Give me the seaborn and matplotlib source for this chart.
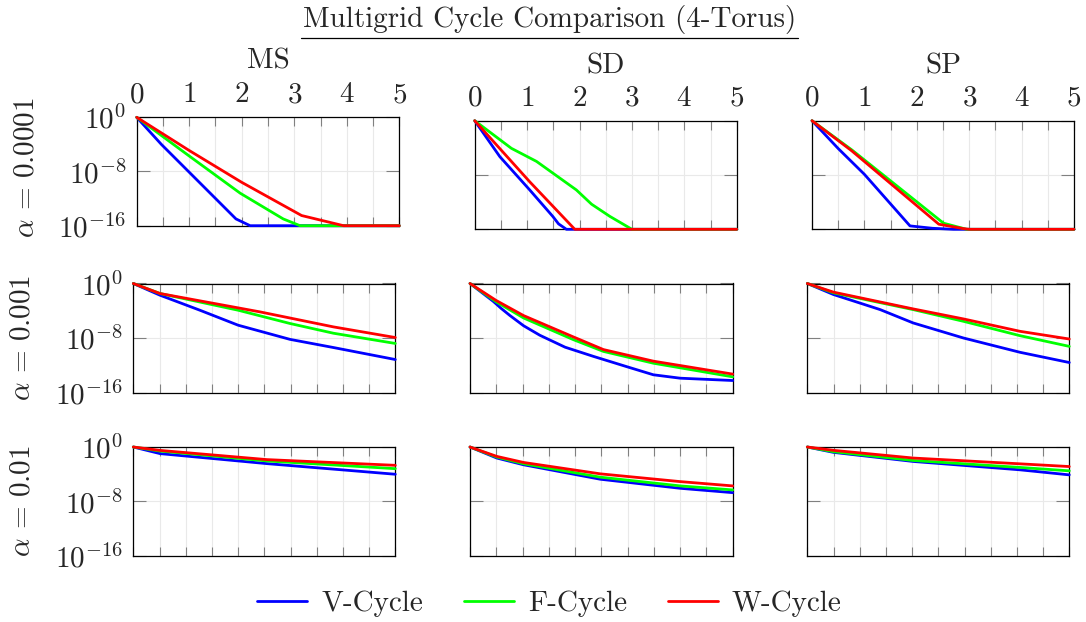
import matplotlib
matplotlib.use("Agg")
import matplotlib.pyplot as plt
from matplotlib.lines import Line2D
from matplotlib.ticker import MultipleLocator, NullLocator
import pandas as pd
import seaborn as sns

# ---------------------------------------------------------------------------
# Residual histories: (time, relative residual) pairs for each cycle type
# ---------------------------------------------------------------------------
alphas = ["0.0001", "0.001", "0.01"]
methods = ["MS", "SD", "SP"]
cycles = ["V-Cycle", "F-Cycle", "W-Cycle"]
cycle_colors = ["#0000ff", "#00ff00", "#ff0000"]

# alpha = 0.0001
ms_a4_v = [(0, 1e0), (0.47, 1e-4), (1.89, 1e-15), (2.16, 1e-16), (5, 1e-16)]
ms_a4_f = [(0, 1e0), (0.98, 10**-5.6), (1.97, 10**-11.2), (2.79, 1e-15), (3.11, 1e-16), (5, 1e-16)]
ms_a4_w = [(0, 1e0), (1.0, 10**-4.9), (2.0, 10**-9.6), (3.14, 10**-14.5), (3.94, 1e-16), (5, 1e-16)]
sd_a4_v = [(0, 1e0), (0.48, 10**-5.3), (1.05, 10**-10.2), (1.49, 10**-14.1), (1.6, 10**-15.2), (1.75, 1e-16), (5, 1e-16)]
sd_a4_f = [(0, 1e0), (0.70, 10**-4.07), (1.18, 1e-6), (1.94, 10**-10.2), (2.23, 10**-12.3), (2.58, 10**-14.1), (3.0, 1e-16), (5, 1e-16)]
sd_a4_w = [(0, 1e0), (1.05, 1e-9), (1.91, 1e-16), (5, 1e-16)]
sp_a4_v = [(0, 1e0), (0.5, 10**-4.1), (1.0, 10**-7.9), (1.87, 10**-15.5), (2.3, 10**-15.85), (2.7, 1e-16), (5, 1e-16)]
sp_a4_f = [(0, 1e0), (0.76, 10**-4.3), (2.51, 10**-15.1), (2.95, 1e-16), (5, 1e-16)]
sp_a4_w = [(0, 1e0), (0.76, 10**-4.45), (2.42, 10**-15.25), (2.89, 10**-15.9), (3.0, 1e-16), (5, 1e-16)]

# alpha = 0.001
ms_a3_v = [(0, 1e0), (0.51, 10**-1.72), (1.27, 10**-3.92), (2.0, 10**-6.12), (2.99, 10**-8.2), (3.82, 10**-9.4), (5, 10**-11.16)]
ms_a3_f = [(0, 1e0), (0.51, 10**-1.47), (2.0, 10**-3.92), (2.99, 10**-5.87), (3.82, 10**-7.3), (5, 10**-8.8)]
ms_a3_w = [(0, 1e0), (0.51, 10**-1.47), (2.42, 10**-4.17), (3.82, 10**-6.37), (5, 10**-7.93)]
sd_a3_v = [(0, 1e0), (0.44, 10**-2.6), (0.6, 10**-3.7), (0.76, 10**-4.7), (1.02, 10**-6.2), (1.33, 10**-7.6),
           (1.81, 10**-9.35), (2.35, 10**-10.7), (2.98, 10**-12.2), (3.49, 10**-13.4), (4.0, 10**-13.9), (5, 10**-14.24)]
sd_a3_f = [(0, 1e0), (0.5, 10**-2.7), (1.02, 10**-5.06), (1.97, 10**-8.25), (2.54, 10**-9.97), (3.49, 10**-11.7), (5, 10**-13.7)]
sd_a3_w = [(0, 1e0), (0.5, 10**-2.5), (1.02, 10**-4.71), (1.97, 10**-7.85), (2.54, 10**-9.7), (3.49, 10**-11.4), (5, 10**-13.3)]
sp_a3_v = [(0, 1e0), (0.5, 10**-1.62), (1.39, 10**-3.83), (2.02, 10**-5.79), (2.98, 1e-8), (4.06, 10**-10.1), (5, 10**-11.6)]
sp_a3_f = [(0, 1e0), (0.5, 10**-1.37), (2.02, 10**-3.83), (2.98, 10**-5.55), (4.06, 10**-7.66), (5, 10**-9.23)]
sp_a3_w = [(0, 1e0), (0.5, 10**-1.27), (2.02, 10**-3.73), (2.98, 10**-5.2), (4.06, 10**-7.02), (5, 10**-8.15)]

# alpha = 0.01
ms_a2_v = [(0, 1e0), (0.51, 10**-0.97), (2.55, 10**-2.44), (5, 10**-4.0)]
ms_a2_f = [(0, 1e0), (0.51, 10**-0.6), (2.55, 10**-2.05), (5, 10**-3.18)]
ms_a2_w = [(0, 1e0), (0.51, 10**-0.5), (2.55, 10**-1.85), (5, 10**-2.69)]
sd_a2_v = [(0, 1e0), (0.51, 10**-1.62), (1.02, 10**-2.61), (2.48, 10**-4.73), (4.0, 10**-6.06), (5, 10**-6.7)]
sd_a2_f = [(0, 1e0), (0.51, 10**-1.48), (1.02, 10**-2.46), (2.48, 10**-4.43), (4.0, 10**-5.71), (5, 10**-6.3)]
sd_a2_w = [(0, 1e0), (0.51, 10**-1.38), (1.02, 10**-2.27), (2.48, 10**-3.94), (4.0, 10**-5.08), (5, 10**-5.71)]
sp_a2_v = [(0, 1e0), (0.5, 10**-0.79), (2.02, 10**-2.12), (4.06, 10**-3.35), (5, 10**-4.09)]
sp_a2_f = [(0, 1e0), (0.5, 10**-0.69), (2.02, 10**-1.98), (4.06, 10**-3.0), (5, 10**-3.5)]
sp_a2_w = [(0, 1e0), (0.5, 10**-0.49), (2.02, 10**-1.62), (4.06, 10**-2.47), (5, 10**-2.87)]

histories = {
    ("0.0001", "MS"): [ms_a4_v, ms_a4_f, ms_a4_w],
    ("0.0001", "SD"): [sd_a4_v, sd_a4_f, sd_a4_w],
    ("0.0001", "SP"): [sp_a4_v, sp_a4_f, sp_a4_w],
    ("0.001", "MS"): [ms_a3_v, ms_a3_f, ms_a3_w],
    ("0.001", "SD"): [sd_a3_v, sd_a3_f, sd_a3_w],
    ("0.001", "SP"): [sp_a3_v, sp_a3_f, sp_a3_w],
    ("0.01", "MS"): [ms_a2_v, ms_a2_f, ms_a2_w],
    ("0.01", "SD"): [sd_a2_v, sd_a2_f, sd_a2_w],
    ("0.01", "SP"): [sp_a2_v, sp_a2_f, sp_a2_w],
}

records = []
for (alpha, method), series in histories.items():
    for cycle, pts in zip(cycles, series):
        for order, (t, r) in enumerate(pts):
            records.append(dict(alpha=alpha, method=method, cycle=cycle,
                                order=order, time=t, residual=r))
df = pd.DataFrame(records)

# ---------------------------------------------------------------------------
# Styling
# ---------------------------------------------------------------------------
sns.set_theme(style="white")
plt.rcParams.update({
    "font.family": ["cmr10"],
    "mathtext.fontset": "cm",
    "axes.unicode_minus": False,
    "axes.formatter.use_mathtext": True,
})

W, H = 1086, 622
fig = plt.figure(figsize=(W / 100, H / 100), dpi=100)
fig.patch.set_facecolor("white")

# panel boxes in pixels: (left, top, right, bottom)
row_spans = [None, (283.5, 392.5), (447.0, 556.0)]
col_x = [(133.3, 395.3), (470.0, 732.7), (807.3, 1069.3)]
first_row_boxes = [(136.7, 117.3, 399.3, 225.7),
                   (474.7, 120.7, 736.7, 229.3),
                   (812.0, 120.7, 1074.0, 229.3)]

FS = 21
GRID_C = "#e9e9e9"
TICK_C = "#808080"

for i, alpha in enumerate(alphas):
    for j, method in enumerate(methods):
        if i == 0:
            l, t, r, b = first_row_boxes[j]
        else:
            l, r = col_x[j]
            t, b = row_spans[i]
        ax = fig.add_axes([l / W, 1 - b / H, (r - l) / W, (b - t) / H])
        sub = df[(df.alpha == alpha) & (df.method == method)]
        sns.lineplot(data=sub, x="time", y="residual", hue="cycle",
                     hue_order=cycles, palette=cycle_colors, units="cycle",
                     estimator=None, sort=False, linewidth=2.0, legend=False,
                     clip_on=False, zorder=3, ax=ax)
        ax.set_yscale("log")
        ax.set_xlim(0, 5)
        ax.set_ylim(1e-16, 1e0)
        ax.set_xlabel("")
        ax.set_ylabel("")

        ax.set_xticks(range(6))
        ax.xaxis.set_minor_locator(MultipleLocator(0.5))
        ax.set_yticks([1e0, 1e-8, 1e-16])
        ax.set_yticklabels([r"$10^{0}$", r"$10^{-8}$", r"$10^{-16}$"])
        ax.yaxis.set_minor_locator(NullLocator())

        ax.set_axisbelow(True)
        ax.grid(True, which="both", axis="x", color=GRID_C, lw=0.8)
        ax.grid(True, which="major", axis="y", color=GRID_C, lw=0.8)

        ax.tick_params(which="both", direction="in", top=True, bottom=True,
                       left=True, right=True, color=TICK_C, width=0.8,
                       labelsize=FS)
        ax.tick_params(axis="x", which="both", length=6.5, pad=6.5,
                       labeltop=(i == 0), labelbottom=False)
        ax.tick_params(axis="y", which="both", length=9.5, pad=7.5,
                       labelleft=(j == 0), labelright=False)
        for sp in ax.spines.values():
            sp.set_color("black")
            sp.set_linewidth(0.9)
            sp.set_visible(True)

# column titles
col_title_pos = [(268.0, 68.3), (605.7, 73.3), (943.0, 73.3)]
for name, (cx, cy) in zip(methods, col_title_pos):
    fig.text(cx / W, 1 - cy / H, name, ha="center", va="baseline", fontsize=FS)

# row labels
row_label_pos = [(26.0, 168.0), (22.0, 338.0), (22.0, 501.5)]
for alpha, (rx, ry) in zip(alphas, row_label_pos):
    fig.text(rx / W, 1 - ry / H, r"$\alpha\,=\," + alpha + "$", rotation=90,
             ha="center", va="center", fontsize=FS)

# underlined figure title
title = fig.text(549.5 / W, 1 - 26.7 / H, "Multigrid Cycle Comparison (4-Torus)",
                 ha="center", va="baseline", fontsize=FS)
fig.canvas.draw()
bb = title.get_window_extent(fig.canvas.get_renderer())
uy = H - 37.5
fig.add_artist(Line2D([(bb.x0 - 2) / W, (bb.x1 + 2) / W], [uy / H, uy / H],
                      transform=fig.transFigure, color="black", lw=0.9))

# legend
handles = [Line2D([], [], color=c, lw=2.0) for c in cycle_colors]
fig.legend(handles, cycles, loc="center", bbox_to_anchor=(549.5 / W, 1 - 604 / H),
           ncol=3, frameon=False, fontsize=FS, handlelength=1.71,
           columnspacing=1.4, handletextpad=0.48)

fig.savefig("out.png", dpi=100, facecolor="white")
